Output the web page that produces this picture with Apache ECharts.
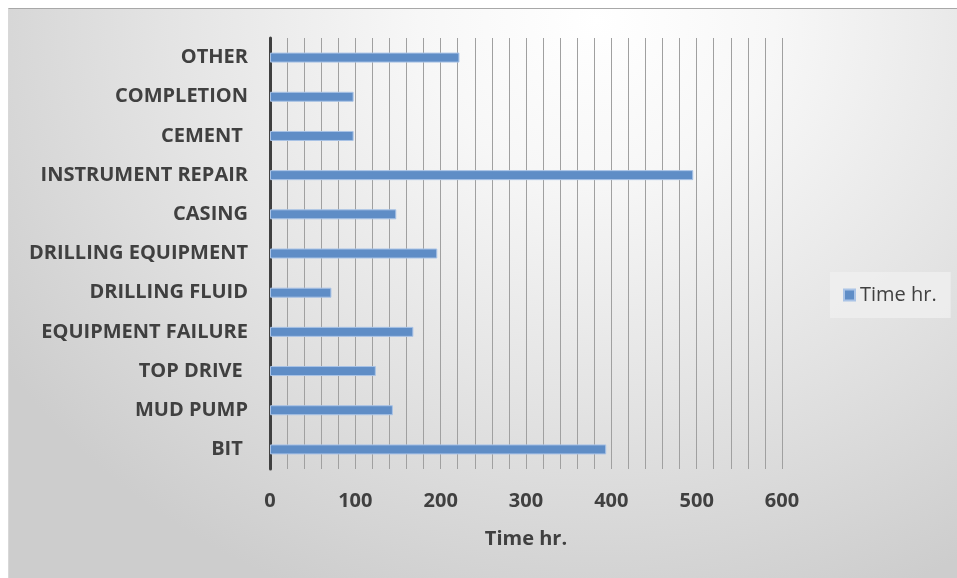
<!DOCTYPE html>
<html>
<head>
<meta charset="utf-8">
<script src="https://cdn.jsdelivr.net/npm/echarts@6/dist/echarts.min.js"></script>
<style>
html,body{margin:0;padding:0;background:#fff;width:957px;height:578px;overflow:hidden;}
#bg{position:absolute;left:8px;top:8px;width:949px;height:570px;
 border-top:1px solid #a8a8a8;border-left:1px solid #d8d8d8;box-sizing:border-box;
 background:radial-gradient(ellipse 75% 110% at 62% 2%, #ffffff 0%, #f7f7f7 25%, #e4e4e4 60%, #cdcdcd 100%);}
#chart{position:absolute;left:0;top:0;width:957px;height:578px;}
</style>
</head>
<body>
<div id="bg"></div>
<div id="chart"></div>
<script>
const categories = ["BIT ", "MUD PUMP", "TOP DRIVE ", "EQUIPMENT FAILURE", "DRILLING FLUID", "DRILLING EQUIPMENT", "CASING", "INSTRUMENT REPAIR", "CEMENT ", "COMPLETION", "OTHER"];
const timeHr = [394, 144, 124, 168, 72, 196, 148, 496, 98, 98, 222];
const seriesName = "Time hr.";
const axisTitle = "Time hr.";

const chart = echarts.init(document.getElementById('chart'), null, {renderer:'canvas'});
const font = "'Open Sans', 'Liberation Sans', sans-serif";
chart.setOption({
  backgroundColor: 'transparent',
  animation: false,
  textStyle: {fontFamily: font},
  grid: {left: 270, right: 175, top: 38, bottom: 109, containLabel: false},
  legend: {
    data: [seriesName],
    left: 830, top: 272,
    padding: [13, 14, 13, 13],
    backgroundColor: 'rgba(238,238,238,0.85)',
    itemWidth: 11, itemHeight: 11, itemGap: 6,
    icon: 'rect',
    textStyle: {fontFamily: font, fontSize: 20, color: '#404040'}
  },
  xAxis: {
    type: 'value', min: 0, max: 600, interval: 20,
    axisLine: {show: false}, axisTick: {show: false},
    axisLabel: {
      formatter: v => (v % 100 === 0 ? String(v) : ''),
      fontFamily: font, fontSize: 20, fontWeight: 'bold', color: '#404040', margin: 22
    },
    splitLine: {show: true, lineStyle: {color: '#a0a0a0', width: 1}},
    name: axisTitle, nameLocation: 'middle', nameGap: 60,
    nameTextStyle: {fontFamily: font, fontSize: 20, fontWeight: 'bold', color: '#404040'}
  },
  yAxis: {
    type: 'category', data: categories,
    axisLine: {show: true, lineStyle: {color: '#404040', width: 3}},
    axisTick: {show: false},
    axisLabel: {fontFamily: font, fontSize: 20, fontWeight: 'bold', color: '#404040', margin: 22},
    splitLine: {show: false}
  },
  series: [{
    name: seriesName, type: 'bar', data: timeHr, barWidth: 10,
    itemStyle: {color: '#5f8dc6', borderColor: '#a9c3e6', borderWidth: 1}
  }]
});
</script>
</body>
</html>
